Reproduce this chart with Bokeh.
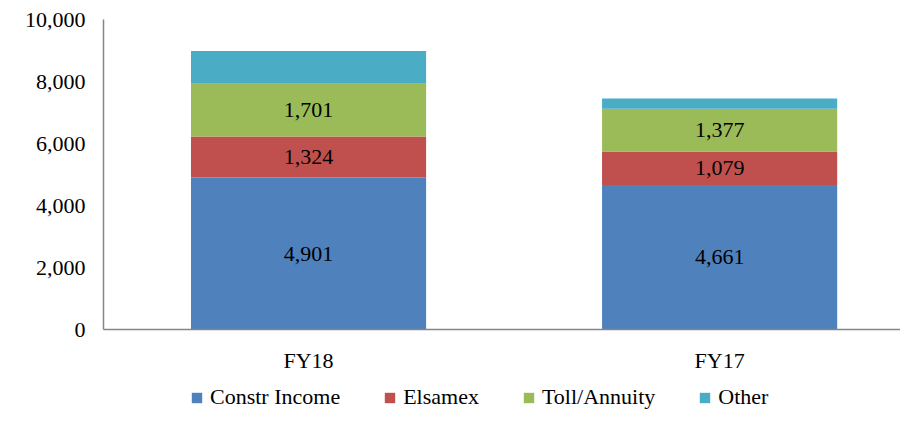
from bokeh.plotting import figure
from bokeh.models import (ColumnDataSource, Range1d, FixedTicker, NumeralTickFormatter,
                          Legend, LegendItem)
from bokeh.layouts import column
from bokeh.embed import file_html
from bokeh.resources import INLINE
from bokeh.core.properties import value

# ---- data ----
categories = ["FY18", "FY17"]
constr_income = [4901, 4661]
elsamex = [1324, 1079]
toll_annuity = [1701, 1377]
other = [1060, 335]
series_names = ["Constr Income", "Elsamex", "Toll/Annuity", "Other"]
colors = ["#4F81BD", "#C0504D", "#9BBB59", "#4BACC6"]
y_ticks = [0, 2000, 4000, 6000, 8000, 10000]

FONT = "Liberation Serif"
FS = "22px"

series = [constr_income, elsamex, toll_annuity, other]
keys = ["s0", "s1", "s2", "s3"]
x_pos = [i + 0.5 for i in range(len(categories))]

data = {"x": x_pos}
for k, s in zip(keys, series):
    data[k] = s
source = ColumnDataSource(data)

p = figure(width=900, height=380, output_backend="svg", toolbar_location=None,
           x_range=Range1d(0.0012, 1.94), y_range=Range1d(0, 10000),
           min_border_left=103, min_border_right=0, min_border_top=19,
           min_border_bottom=51)
p.outline_line_color = None
p.xgrid.grid_line_color = None
p.ygrid.grid_line_color = None
p.background_fill_color = "white"

renderers = p.vbar_stack(keys, x="x", width=0.572, color=colors, source=source,
                         line_color=None)

# labels for first three segments
lx, ly, lt = [], [], []
for i in range(len(categories)):
    base = 0
    for j, s in enumerate(series):
        if j < 3:
            lx.append(x_pos[i])
            ly.append(base + s[i] / 2)
            lt.append(f"{s[i]:,}")
        base += s[i]
p.text(x=lx, y=ly, text=lt, text_align="center", text_baseline="middle",
       text_font=value(FONT), text_font_size=FS, text_color="black")

axis_color = "#868686"
for ax in (p.xaxis[0], p.yaxis[0]):
    ax.axis_line_color = axis_color
    ax.axis_line_width = 1.5
    ax.major_tick_line_color = None
    ax.minor_tick_line_color = None
    ax.major_tick_out = 0
    ax.major_tick_in = 0
    ax.minor_tick_out = 0
    ax.minor_tick_in = 0
    ax.major_label_text_font = FONT
    ax.major_label_text_font_size = FS
    ax.major_label_text_color = "black"

p.yaxis.ticker = FixedTicker(ticks=y_ticks)
p.yaxis.formatter = NumeralTickFormatter(format="0,0")
p.yaxis.major_label_standoff = 18

p.xaxis.ticker = FixedTicker(ticks=x_pos)
p.xaxis.major_label_overrides = {x: c for x, c in zip(x_pos, categories)}
p.xaxis.major_label_standoff = 18

# ---- legend strip (its frame is aligned with the main plot's frame) ----
lg = figure(width=900, height=30, output_backend="svg", toolbar_location=None,
            x_range=Range1d(0, 1), y_range=Range1d(0, 1),
            min_border_left=0, min_border_right=0, min_border_top=0,
            min_border_bottom=0)
lg.outline_line_color = None
lg.axis.visible = False
lg.xgrid.grid_line_color = None
lg.ygrid.grid_line_color = None

# off-screen proxy glyphs so the legend swatches get their colours
dummy = [lg.vbar(x=[-10], top=[0], width=0, fill_color=c, line_color=None) for c in colors]

legend = Legend(items=[LegendItem(label=n, renderers=[r]) for n, r in zip(series_names, dummy)],
                orientation="horizontal", location=(87, 0))
legend.label_text_font = FONT
legend.label_text_font_size = FS
legend.label_text_color = "black"
legend.glyph_width = 13
legend.glyph_height = 13
legend.label_standoff = 7
legend.spacing = 43
legend.padding = 0
legend.margin = 0
legend.border_line_color = None
legend.background_fill_alpha = 0
lg.add_layout(legend)

layout = column(p, lg, spacing=0)
open("out.html", "w").write(file_html(layout, INLINE))
